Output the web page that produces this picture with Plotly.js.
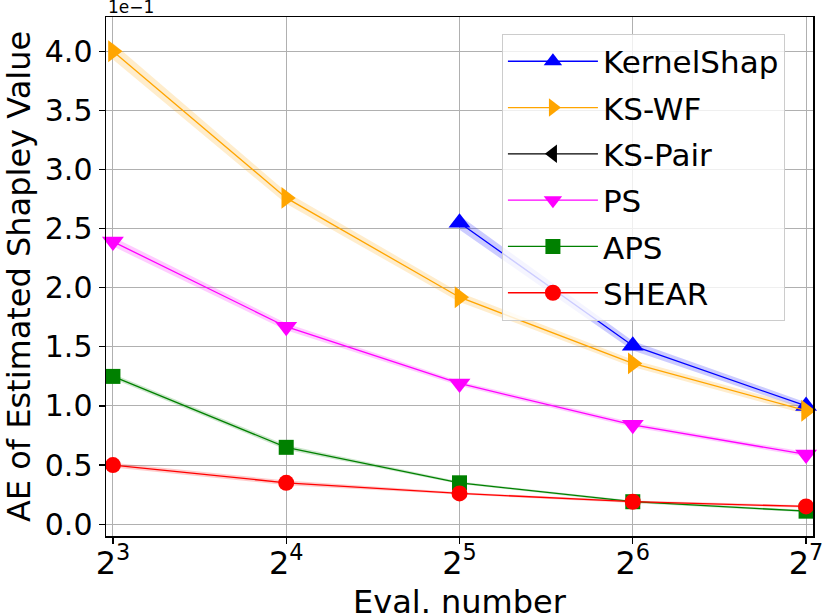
<!DOCTYPE html>
<html>
<head>
<meta charset="utf-8">
<script src="https://cdn.plot.ly/plotly-3.0.1.min.js"></script>
<style>html,body{margin:0;padding:0;background:#fff;}#chart{width:822px;height:616px;}</style>
</head>
<body>
<div id="chart"></div>
<script>
// Data (y in units of 1e-1)
const evalNumbers = [8, 16, 32, 64, 128];
const tickLabels = ['2<sup>3</sup>', '2<sup>4</sup>', '2<sup>5</sup>', '2<sup>6</sup>', '2<sup>7</sup>'];
const kernelShap = [null, null, 2.55, 1.51, 1.00];
const kernelShapErr = [null, null, 0.06, 0.04, 0.03];
const ksWF = [4.00, 2.76, 1.92, 1.36, 0.96];
const ksWFErr = [0.07, 0.05, 0.04, 0.03, 0.03];
const ksPair = [null, null, null, null, null];
const ps = [2.39, 1.67, 1.19, 0.84, 0.59];
const psErr = [0.04, 0.03, 0.02, 0.02, 0.02];
const aps = [1.25, 0.65, 0.35, 0.19, 0.11];
const apsErr = [0.02, 0.02, 0.01, 0.01, 0.01];
const shear = [0.50, 0.35, 0.26, 0.19, 0.15];
const shearErr = [0.02, 0.02, 0.01, 0.01, 0.01];
const yTickVals = [0, 0.5, 1, 1.5, 2, 2.5, 3, 3.5, 4];
const yTickText = ['0.0', '0.5', '1.0', '1.5', '2.0', '2.5', '3.0', '3.5', '4.0'];

function band(vals, errs, color) {
  const xs = [], up = [], lo = [];
  vals.forEach((v, i) => {
    if (v !== null) { xs.push(evalNumbers[i]); up.push(v + errs[i]); lo.push(v - errs[i]); }
  });
  return {
    x: xs.concat(xs.slice().reverse()),
    y: up.concat(lo.slice().reverse()),
    type: 'scatter', mode: 'lines', fill: 'toself',
    fillcolor: color, line: {width: 0}, hoverinfo: 'skip', showlegend: false
  };
}

function series(name, vals, color, symbol, size, rank) {
  return {
    x: evalNumbers, y: vals, name: name, type: 'scatter', mode: 'lines+markers',
    line: {color: color, width: 1.3},
    marker: {color: color, symbol: symbol, size: size},
    legendrank: rank, legendgroup: name, cliponaxis: false
  };
}

const traces = [
  band(kernelShap, kernelShapErr, 'rgba(0,0,255,0.2)'),
  band(ksWF, ksWFErr, 'rgba(255,165,0,0.2)'),
  band(ps, psErr, 'rgba(255,0,255,0.2)'),
  band(aps, apsErr, 'rgba(0,128,0,0.2)'),
  band(shear, shearErr, 'rgba(255,0,0,0.2)'),
  series('KS-Pair', ksPair, 'black', 'triangle-left', 19, 3),
  series('KernelShap', kernelShap, 'blue', 'triangle-up', 19, 1),
  series('KS-WF', ksWF, 'orange', 'triangle-right', 19, 2),
  series('PS', ps, 'magenta', 'triangle-down', 19, 4),
  series('APS', aps, 'green', 'square', 15, 5),
  series('SHEAR', shear, 'red', 'circle', 16, 6)
];

const font = {family: 'DejaVu Sans', color: 'black'};
const layout = {
  width: 822, height: 616,
  margin: {l: 106, r: 9, t: 17, b: 80},
  paper_bgcolor: 'white', plot_bgcolor: 'white',
  font: font,
  showlegend: true,
  xaxis: {
    type: 'log',
    range: [Math.log10(Math.pow(2, 2.96)), Math.log10(Math.pow(2, 7.04))],
    tickvals: evalNumbers, ticktext: tickLabels,
    tickfont: {family: 'DejaVu Sans', size: 32, color: 'black'},
    ticklabeloverflow: 'allow', ticklabelstandoff: -8,
    ticks: 'outside', ticklen: 6, tickcolor: 'black', tickwidth: 1.3,
    showgrid: true, gridcolor: '#b0b0b0', gridwidth: 1,
    showline: true, linecolor: 'black', linewidth: 1.5, mirror: true,
    zeroline: false
  },
  yaxis: {
    range: [-0.10, 4.29],
    tickvals: yTickVals, ticktext: yTickText,
    tickfont: {family: 'DejaVu Sans', size: 30, color: 'black'},
    ticks: 'outside', ticklen: 6, tickcolor: 'black', tickwidth: 1.3,
    showgrid: true, gridcolor: '#b0b0b0', gridwidth: 1,
    showline: true, linecolor: 'black', linewidth: 1.5, mirror: true,
    zeroline: false,
    title: {text: 'AE of Estimated Shapley Value', font: {family: 'DejaVu Sans', size: 32, color: 'black'}, standoff: 8}
  },
  legend: {
    x: 0.56, y: 0.968, xanchor: 'left', yanchor: 'top',
    bgcolor: 'rgba(255,255,255,0.8)', bordercolor: '#cccccc', borderwidth: 1,
    font: {family: 'DejaVu Sans', size: 31, color: 'black'},
    traceorder: 'grouped', tracegroupgap: 3, itemwidth: 90,
    entrywidth: 295, entrywidthmode: 'pixels'
  },
  annotations: [{
    text: '1e\u22121', xref: 'paper', yref: 'paper', x: 0, y: 1,
    xanchor: 'left', yanchor: 'bottom', showarrow: false,
    font: {family: 'DejaVu Sans', size: 17, color: 'black'}, yshift: -2
  }, {
    text: 'Eval. number', xref: 'paper', yref: 'paper', x: 0.5, y: 0,
    xanchor: 'center', yanchor: 'top', showarrow: false,
    font: {family: 'DejaVu Sans', size: 32, color: 'black'}, yshift: -45
  }]
};

Plotly.newPlot('chart', traces, layout, {displayModeBar: false, staticPlot: true});
</script>
</body>
</html>
